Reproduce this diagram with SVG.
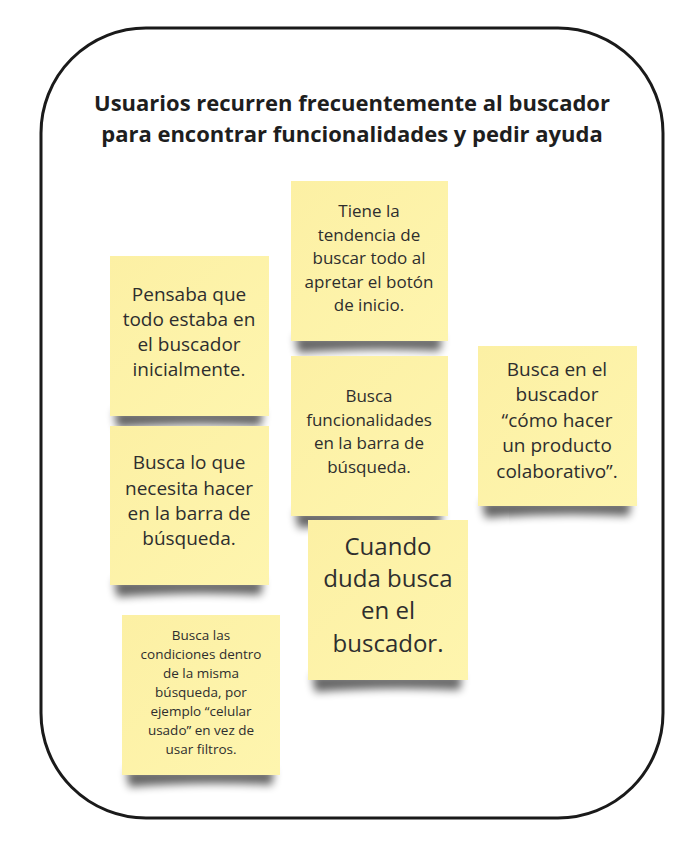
<svg xmlns="http://www.w3.org/2000/svg" width="692" height="841" viewBox="0 0 692 841">
<defs>
<linearGradient id="paper" x1="0" y1="0" x2="1" y2="1">
<stop offset="0" stop-color="#fcf0a4"/>
<stop offset="1" stop-color="#fef5ae"/>
</linearGradient>
<filter id="sh" x="-30%" y="-100%" width="160%" height="300%">
<feGaussianBlur stdDeviation="4"/>
</filter>
</defs>
<style>
.frame{fill:#fff;stroke:#1a1a1a;stroke-width:3}
.title{font-family:"Open Sans","Noto Sans",sans-serif;font-weight:700;font-size:22px;fill:#1e1e1e;text-anchor:middle}
.note{fill:url(#paper)}
.shadow{fill:#000;opacity:0.6;filter:url(#sh)}
.t{font-family:"Open Sans","Noto Sans",sans-serif;fill:#2e2e2e;text-anchor:middle}
</style>
<rect width="692" height="841" fill="#fff"/>
<g id="frame">
<rect class="frame" x="41" y="28" width="622" height="790" rx="105" ry="105"/>
<text class="title" x="352" y="111">Usuarios recurren frecuentemente al buscador</text>
<text class="title" x="352" y="142">para encontrar funcionalidades y pedir ayuda</text>
</g>
<g id="connectors"/>
<g id="n1">
<path class="shadow" d="M295 336 H442 L440 351 Q370 347 298 353 Z"/>
<rect class="note" x="291" y="181" width="157" height="160"/>
<text class="t" font-size="17"><tspan x="369" y="217">Tiene la</tspan><tspan x="369" y="241">tendencia de</tspan><tspan x="369" y="264">buscar todo al</tspan><tspan x="369" y="288">apretar el botón</tspan><tspan x="369" y="311">de inicio.</tspan></text>
</g>
<g id="n2">
<path class="shadow" d="M114 411 H263 L261 426 Q190 422 117 428 Z"/>
<rect class="note" x="110" y="256" width="159" height="160"/>
<text class="t" font-size="19"><tspan x="189" y="301">Pensaba que</tspan><tspan x="189" y="326">todo estaba en</tspan><tspan x="189" y="351">el buscador</tspan><tspan x="189" y="376">inicialmente.</tspan></text>
</g>
<g id="n3">
<path class="shadow" d="M295 511 H442 L440 526 Q370 522 298 528 Z"/>
<rect class="note" x="291" y="356" width="157" height="160"/>
<text class="t" font-size="17"><tspan x="369" y="402">Busca</tspan><tspan x="369" y="426">funcionalidades</tspan><tspan x="369" y="449">en la barra de</tspan><tspan x="369" y="473">búsqueda.</tspan></text>
</g>
<g id="n4">
<path class="shadow" d="M482 501 H631 L629 516 Q558 512 485 518 Z"/>
<rect class="note" x="478" y="346" width="159" height="160"/>
<text class="t" font-size="19"><tspan x="557" y="376">Busca en el</tspan><tspan x="557" y="401">buscador</tspan><tspan x="557" y="427">“cómo hacer</tspan><tspan x="557" y="452">un producto</tspan><tspan x="557" y="478">colaborativo”.</tspan></text>
</g>
<g id="n5">
<path class="shadow" d="M114 580 H263 L261 595 Q190 591 117 597 Z"/>
<rect class="note" x="110" y="426" width="159" height="159"/>
<text class="t" font-size="19"><tspan x="189" y="469">Busca lo que</tspan><tspan x="189" y="495">necesita hacer</tspan><tspan x="189" y="520">en la barra de</tspan><tspan x="189" y="545">búsqueda.</tspan></text>
</g>
<g id="n6">
<path class="shadow" d="M312 675 H462 L460 690 Q388 686 315 692 Z"/>
<rect class="note" x="308" y="520" width="160" height="160"/>
<text class="t" font-size="24"><tspan x="388" y="555">Cuando</tspan><tspan x="388" y="587">duda busca</tspan><tspan x="388" y="619">en el</tspan><tspan x="388" y="652">buscador.</tspan></text>
</g>
<g id="n7">
<path class="shadow" d="M126 770 H274 L272 785 Q200 781 129 787 Z"/>
<rect class="note" x="122" y="615" width="158" height="160"/>
<text class="t" font-size="13.5"><tspan x="201" y="640">Busca las</tspan><tspan x="201" y="659">condiciones dentro</tspan><tspan x="201" y="678">de la misma</tspan><tspan x="201" y="697">búsqueda, por</tspan><tspan x="201" y="716">ejemplo “celular</tspan><tspan x="201" y="735">usado” en vez de</tspan><tspan x="201" y="754">usar filtros.</tspan></text>
</g>
</svg>
